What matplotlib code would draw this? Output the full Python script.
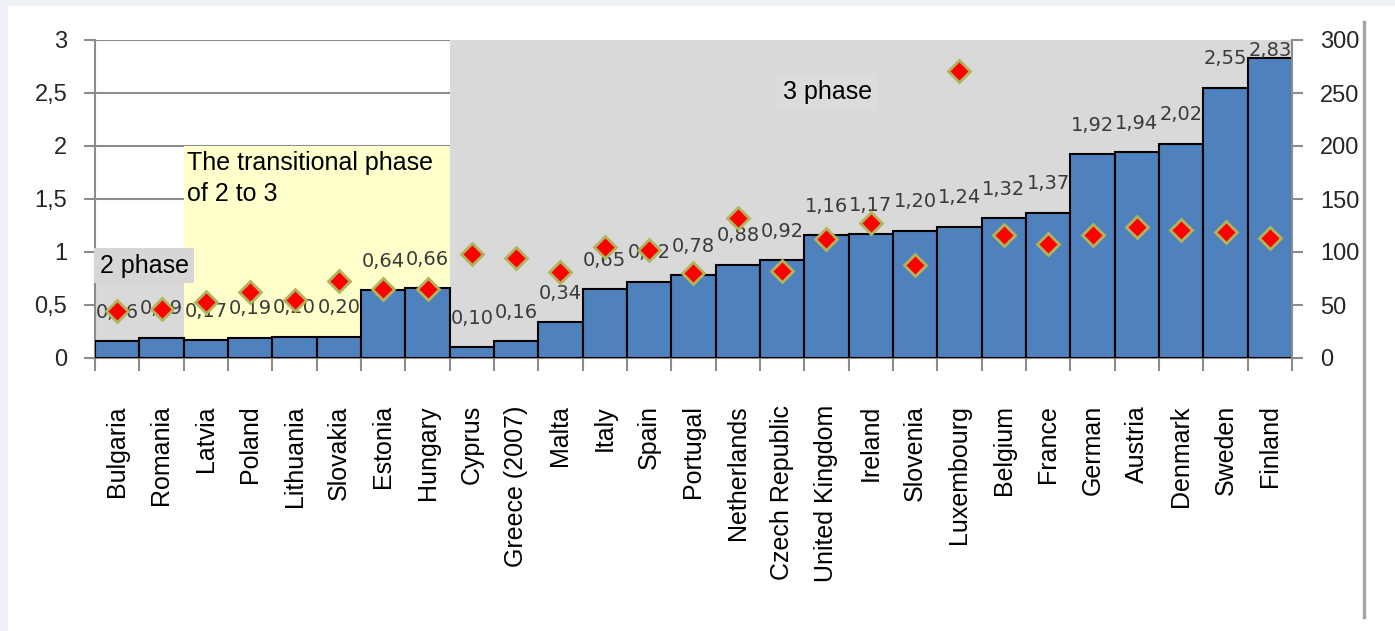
import numpy as np
import matplotlib.pyplot as plt
from matplotlib.patches import Rectangle
from matplotlib.lines import Line2D

# Data
countries = ['Bulgaria', 'Romania', 'Latvia', 'Poland', 'Lithuania', 'Slovakia',
             'Estonia', 'Hungary', 'Cyprus', 'Greece (2007)', 'Malta', 'Italy',
             'Spain', 'Portugal', 'Netherlands', 'Czech Republic', 'United Kingdom',
             'Ireland', 'Slovenia', 'Luxembourg', 'Belgium', 'France', 'German',
             'Austria', 'Denmark', 'Sweden', 'Finland']
bar_values = [0.16, 0.19, 0.17, 0.19, 0.20, 0.20, 0.64, 0.66, 0.10, 0.16, 0.34,
              0.65, 0.72, 0.78, 0.88, 0.92, 1.16, 1.17, 1.20, 1.24, 1.32, 1.37,
              1.92, 1.94, 2.02, 2.55, 2.83]
diamond_values = [44, 46, 53, 62, 55, 73, 65, 65, 98, 94, 81, 105, 102, 80, 132,
                  82, 112, 127, 88, 271, 116, 108, 116, 124, 121, 119, 113]
left_ticks = [0, 0.5, 1, 1.5, 2, 2.5, 3]
left_labels = ['0', '0,5', '1', '1,5', '2', '2,5', '3']
right_ticks = [0, 50, 100, 150, 200, 250, 300]

# phase zones: (first bar, number of bars, height on left axis, colour)
zones = [(0, 2, 1.0, '#d9d9d9'), (2, 6, 2.0, '#ffffcc'), (8, 19, 3.0, '#d9d9d9')]

plt.rcParams['font.family'] = ['Liberation Sans', 'DejaVu Sans']

W, H = 1395, 631
fig = plt.figure(figsize=(W / 100, H / 100), dpi=100, facecolor='#eef2f6')
# white page with a thin light border top/left
fig.patches.append(Rectangle((8 / W, 0), 1, 1 - 6 / H, transform=fig.transFigure,
                             facecolor='white', edgecolor='none', zorder=-10))
fig.lines.append(Line2D([1364 / W, 1364 / W], [1 - 617 / H, 1 - 22 / H],
                        transform=fig.transFigure, color='#a6a6a6', lw=2.5))

ax = fig.add_axes([95 / W, 1 - 358 / H, (1292 - 95) / W, (358 - 40) / H])
ax.set_facecolor('none')
x = np.arange(len(countries))

for start, n, top, col in zones:
    ax.add_patch(Rectangle((start - 0.5, 0), n, top, facecolor=col,
                           edgecolor='none', zorder=1))

ax.bar(x, bar_values, width=1.0, color='#4f81bd', edgecolor='black',
       linewidth=1.5, zorder=3)

ymax = 3.0
for xi, v in zip(x, bar_values):
    txt = f'{v:.2f}'.replace('.', ',')
    if v > 2.7:
        ax.annotate(txt, (xi, ymax), xytext=(0, -1), textcoords='offset points',
                    ha='center', va='top', fontsize=14, family='DejaVu Sans',
                    color='#3a3a3a', zorder=4)
    else:
        ax.annotate(txt, (xi, v), xytext=(0, 14), textcoords='offset points',
                    ha='center', va='bottom', fontsize=14, family='DejaVu Sans',
                    color='#3a3a3a', zorder=4)

ax.set_xlim(-0.5, len(countries) - 0.5)
ax.set_ylim(0, ymax)
ax.set_yticks(left_ticks)
ax.set_yticklabels(left_labels)
ax.yaxis.grid(True, color='#8c8c8c', lw=1.5)
ax.set_axisbelow(True)
ax.tick_params(axis='y', direction='out', length=8, width=1.5, color='#8c8c8c',
               pad=12, labelsize=17, labelcolor='#262626')

ax.set_xticks(x)
ax.set_xticklabels(countries, rotation=90, fontsize=18)
ax.set_xticks(np.arange(len(countries) + 1) - 0.5, minor=True)
ax.tick_params(axis='x', which='major', length=0, pad=34)
ax.tick_params(axis='x', which='minor', direction='out', length=9, width=1.5,
               color='#8c8c8c')

for s in ['top', 'right']:
    ax.spines[s].set_visible(False)
for s in ['left', 'bottom']:
    ax.spines[s].set_color('#8c8c8c')
    ax.spines[s].set_linewidth(1.5)

ax.text(-0.39, 0.87, '2 phase', fontsize=18, ha='left', va='center', zorder=5,
        bbox=dict(boxstyle='square,pad=0.22', fc='#d6d6d6', ec='none'))
ax.text(1.57, 1.95, 'The transitional phase\nof 2 to 3', fontsize=18, ha='left',
        va='top', linespacing=1.35, zorder=5)
ax.text(15.02, 2.51, '3 phase', fontsize=18, ha='left', va='center', zorder=5,
        bbox=dict(boxstyle='square,pad=0.25', fc='#dcdcdc', ec='none'))

ax2 = ax.twinx()
ax2.set_ylim(0, 300)
ax2.set_yticks(right_ticks)
ax2.plot(x, diamond_values, linestyle='none', marker='D', markersize=11,
         markerfacecolor='#ff0000', markeredgecolor='#b0b45a', markeredgewidth=2,
         zorder=6)
ax2.tick_params(axis='y', direction='out', length=8, width=1.5, color='#8c8c8c',
                pad=12, labelsize=17, labelcolor='#262626')
for s in ['top', 'left', 'bottom']:
    ax2.spines[s].set_visible(False)
ax2.spines['right'].set_color('#8c8c8c')
ax2.spines['right'].set_linewidth(1.5)

fig.savefig('out.png', dpi=100, facecolor=fig.get_facecolor())
